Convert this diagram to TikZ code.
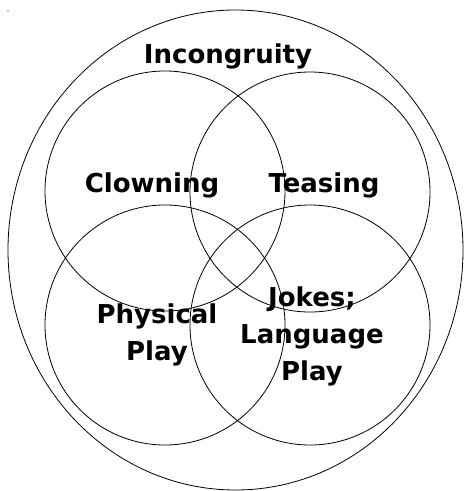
\documentclass[tikz,border=0pt]{standalone}
\usepackage{fontspec}
\setmainfont{DejaVu Sans}
\begin{document}
\begin{tikzpicture}[x=1pt,y=-1pt,
  ring/.style={draw=black,line width=0.8pt},
  lbl/.style={font=\fontsize{26}{37}\selectfont\bfseries,align=center,inner sep=0pt,anchor=base}]
\useasboundingbox (0,0) rectangle (464,491);
\fill (8,11) circle (0.7);
\draw[ring] (235.5,250) ellipse [x radius=227.5, y radius=240];
\draw[ring] (165,191) circle (120);
\draw[ring] (310,192) circle (120);
\draw[ring] (165,325) circle (120);
\draw[ring] (310,325) circle (120);
\node[lbl] (inc) at (228,63) {Incongruity};
\node[lbl] (clo) at (152,192) {Clowning};
\node[lbl] (tea) at (324,192) {Teasing};
\node[lbl] (phy) at (157,360) {Physical\\Play};
\node[lbl] (jok) at (312,380) {Jokes;\\Language\\Play};
\end{tikzpicture}
\end{document}
